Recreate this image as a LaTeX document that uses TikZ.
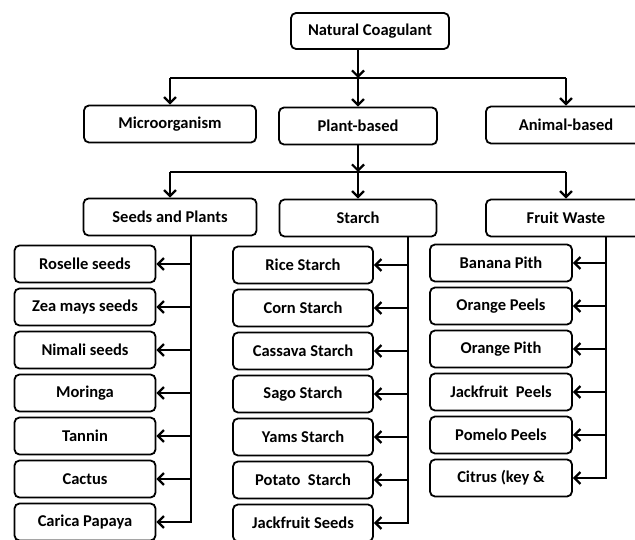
\documentclass[tikz,border=0pt]{standalone}
\usepackage{fontspec}
\setmainfont{Carlito}
\usetikzlibrary{arrows.meta}
\begin{document}
\begin{tikzpicture}[x=1pt,y=-1pt,
    box/.style={draw,line width=1.8pt,rounded corners=5pt,minimum height=37pt,inner sep=0pt,font=\fontsize{16.5}{19}\selectfont\bfseries},
    item/.style={box,minimum width=141pt},
    ln/.style={line width=2.2pt,line join=miter},
    arr/.style={ln,-{Straight Barb[length=6pt,width=12pt,line width=2.2pt]}}]
   \useasboundingbox (0,0) rectangle (635,540);
   % first and second level
   \node[box,minimum width=158pt,minimum height=36pt] (nc) at (370,31) {Natural Coagulant};
   \node[box,minimum width=172pt] (micro) at (170,124) {Microorganism};
   \node[box,minimum width=158pt] (plant) at (358,126) {Plant-based};
   \node[box,minimum width=160pt] (animal) at (566,125) {Animal-based};
   \coordinate (bar1) at (0,78);
   \draw[arr] (nc.south -| plant) -- (bar1 -| plant);
   \draw[ln] (bar1 -| micro) -- (bar1 -| animal);
   \foreach \n in {micro,plant,animal} \draw[arr] (bar1 -| \n) -- (\n);
   % third level
   \node[box,minimum width=173pt] (seeds) at (170,217) {Seeds and Plants};
   \node[box,minimum width=157pt] (starch) at (358,218) {Starch};
   \node[box,minimum width=160pt] (fruit) at (566,218) {Fruit Waste};
   \coordinate (bar2) at (0,172);
   \draw[arr] (plant) -- (bar2 -| plant);
   \draw[ln] (bar2 -| seeds) -- (bar2 -| fruit);
   \foreach \n in {seeds,starch,fruit} \draw[arr] (bar2 -| \n) -- (\n);
   % seeds and plants
   \foreach \t [count=\i] in {Roselle seeds,Zea mays seeds,Nimali seeds,Moringa,Tannin,Cactus,Carica Papaya}
      \node[item] (s\i) at (85,221+43*\i) {\t};
   \coordinate (sx) at (191,0);
   \draw[arr] (seeds.south -| sx) -- (s7 -| sx) -- (s7);
   \foreach \i in {1,...,6} \draw[arr] (s\i -| sx) -- (s\i);
   % starch
   \foreach \t [count=\i] in {Rice Starch,Corn Starch,Cassava Starch,Sago Starch,Yams Starch,{Potato\ \ Starch},Jackfruit Seeds}
      \node[item,minimum width=140pt] (r\i) at (303,222+43*\i) {\t};
   \coordinate (rx) at (408,0);
   \draw[arr] (starch.south -| rx) -- (r7 -| rx) -- (r7);
   \foreach \i in {1,...,6} \draw[arr] (r\i -| rx) -- (r\i);
   % fruit waste
   \foreach \t [count=\i] in {Banana Pith,Orange Peels,Orange Pith,{Jackfruit\ \ Peels},Pomelo Peels,{Citrus (key \&}}
      \node[item,minimum width=142pt] (f\i) at (501,220+43*\i) {\t};
   \coordinate (fx) at (606,0);
   \draw[arr] (fruit.south -| fx) -- (f6 -| fx) -- (f6);
   \foreach \i in {1,...,5} \draw[arr] (f\i -| fx) -- (f\i);
\end{tikzpicture}
\end{document}
